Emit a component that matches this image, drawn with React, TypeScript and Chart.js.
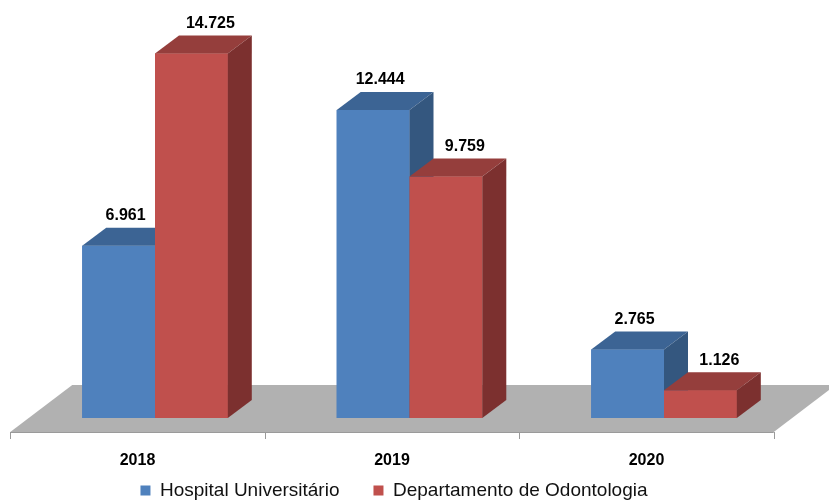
import React, { useEffect, useRef } from "react";
import { Chart, registerables } from "chart.js";

Chart.register(...registerables);

// ---- data ----
const categories = ["2018", "2019", "2020"];
const seriesNames = ["Hospital Universitário", "Departamento de Odontologia"];
const hospitalValues = [6961, 12444, 2765];
const odontologiaValues = [14725, 9759, 1126];
const yMax = 16000;

// ---- style ----
const FONT = "'Liberation Sans', Arial, sans-serif";
const FRONT = ["#4F81BD", "#C0504D"];
const TOP = ["#3C6494", "#953E3C"];
const SIDE = ["#34577F", "#7C302F"];
const DEPTH_X = 24;
const DEPTH_Y = -18;
const LABEL_DX = [7, 19];
const LABEL_DY = -12;
const FLOOR_FRONT_DX = -17.5;
const FLOOR_FRONT_DY = 14;
const FLOOR_DEPTH_X = 62;
const FLOOR_DEPTH_Y = -47;
const CAT_LABEL_DY = 43;

function fmt(v: number): string {
  return String(v).replace(/\B(?=(\d{3})+(?!\d))/g, ".");
}

const threeDPlugin = {
  id: "threeD",
  beforeDatasetsDraw(chart: any) {
    const { ctx } = chart;
    const xs = chart.scales.x;
    const ys = chart.scales.y;
    const zero = ys.getPixelForValue(0);
    const left = xs.left + FLOOR_FRONT_DX;
    const right = xs.right + FLOOR_FRONT_DX;
    const fy = zero + FLOOR_FRONT_DY;
    ctx.save();
    ctx.beginPath();
    ctx.moveTo(left, fy);
    ctx.lineTo(right, fy);
    ctx.lineTo(right + FLOOR_DEPTH_X, fy + FLOOR_DEPTH_Y);
    ctx.lineTo(left + FLOOR_DEPTH_X, fy + FLOOR_DEPTH_Y);
    ctx.closePath();
    ctx.fillStyle = "#B1B1B1";
    ctx.fill();
    ctx.strokeStyle = "#9A9A9A";
    ctx.lineWidth = 1;
    ctx.beginPath();
    ctx.moveTo(left, fy + 0.5);
    ctx.lineTo(right, fy + 0.5);
    const n = categories.length;
    const step = xs.width / n;
    for (let i = 0; i <= n; i++) {
      const bx = Math.round(xs.left + i * step + FLOOR_FRONT_DX) + 0.5;
      ctx.moveTo(bx, fy);
      ctx.lineTo(bx, fy + 7);
    }
    ctx.stroke();
    // category labels, placed from the x scale
    ctx.font = `bold 16px ${FONT}`;
    ctx.fillStyle = "#000";
    ctx.textAlign = "center";
    ctx.textBaseline = "middle";
    chart.data.labels.forEach((lab: string, i: number) => {
      ctx.fillText(lab, xs.getPixelForTick(i) + FLOOR_FRONT_DX, zero + CAT_LABEL_DY);
    });
    ctx.restore();
  },
  afterDatasetsDraw(chart: any) {
    const { ctx } = chart;
    ctx.save();
    chart.data.datasets.forEach((_ds: any, di: number) => {
      const meta = chart.getDatasetMeta(di);
      meta.data.forEach((el: any) => {
        const p = el.getProps(["x", "y", "base", "width"], true);
        el.draw(ctx);
        const l = p.x - p.width / 2;
        const r = p.x + p.width / 2;
        const t = p.y;
        const b = p.base;
        // top face
        ctx.beginPath();
        ctx.moveTo(l, t);
        ctx.lineTo(r, t);
        ctx.lineTo(r + DEPTH_X, t + DEPTH_Y);
        ctx.lineTo(l + DEPTH_X, t + DEPTH_Y);
        ctx.closePath();
        ctx.fillStyle = TOP[di];
        ctx.fill();
        // side face
        ctx.beginPath();
        ctx.moveTo(r, t);
        ctx.lineTo(r + DEPTH_X, t + DEPTH_Y);
        ctx.lineTo(r + DEPTH_X, b + DEPTH_Y);
        ctx.lineTo(r, b);
        ctx.closePath();
        ctx.fillStyle = SIDE[di];
        ctx.fill();
      });
    });
    // value labels
    ctx.font = `bold 16px ${FONT}`;
    ctx.fillStyle = "#000";
    ctx.textAlign = "center";
    ctx.textBaseline = "middle";
    chart.data.datasets.forEach((ds: any, di: number) => {
      const meta = chart.getDatasetMeta(di);
      meta.data.forEach((el: any, i: number) => {
        const p = el.getProps(["x", "y"], true);
        ctx.fillText(fmt(ds.data[i]), p.x + LABEL_DX[di], p.y + DEPTH_Y + LABEL_DY);
      });
    });
    ctx.restore();
  },
};

export default function App() {
  const ref = useRef<HTMLCanvasElement | null>(null);
  useEffect(() => {
    if (!ref.current) return;
    const chart = new Chart(ref.current, {
      type: "bar",
      data: {
        labels: categories,
        datasets: [
          {
            label: seriesNames[0],
            data: hospitalValues,
            backgroundColor: FRONT[0],
            borderWidth: 0,
            categoryPercentage: 0.572,
            barPercentage: 1,
          },
          {
            label: seriesNames[1],
            data: odontologiaValues,
            backgroundColor: FRONT[1],
            borderWidth: 0,
            categoryPercentage: 0.572,
            barPercentage: 1,
          },
        ],
      },
      options: {
        animation: false,
        responsive: false,
        maintainAspectRatio: false,
        devicePixelRatio: 1,
        layout: { padding: { top: 22, left: 0.75, right: 37.75, bottom: 0 } },
        plugins: {
          legend: {
            position: "bottom",
            labels: {
              boxWidth: 10,
              boxHeight: 10,
              padding: 34,
              color: "#111",
              font: { family: FONT, size: 19 },
            },
          },
          tooltip: { enabled: false },
        },
        scales: {
          x: {
            grid: { display: false, drawTicks: false },
            border: { display: false },
            ticks: { display: false },
            afterFit: (s: any) => {
              s.height = 29;
            },
          },
          y: {
            min: 0,
            max: yMax,
            grid: { display: false, drawTicks: false },
            border: { display: false },
            ticks: { display: false },
            afterFit: (s: any) => {
              s.width = 31;
            },
          },
        },
      },
      plugins: [threeDPlugin],
    } as any);
    return () => chart.destroy();
  }, []);
  return (
    <div
      style={{
        position: "fixed",
        left: 0,
        top: 0,
        width: 829,
        height: 501,
        overflow: "hidden",
        background: "#fff",
      }}
    >
      <canvas
        ref={ref}
        width={833}
        height={510}
        style={{ position: "absolute", left: -4, top: 0, display: "block" }}
      />
    </div>
  );
}
